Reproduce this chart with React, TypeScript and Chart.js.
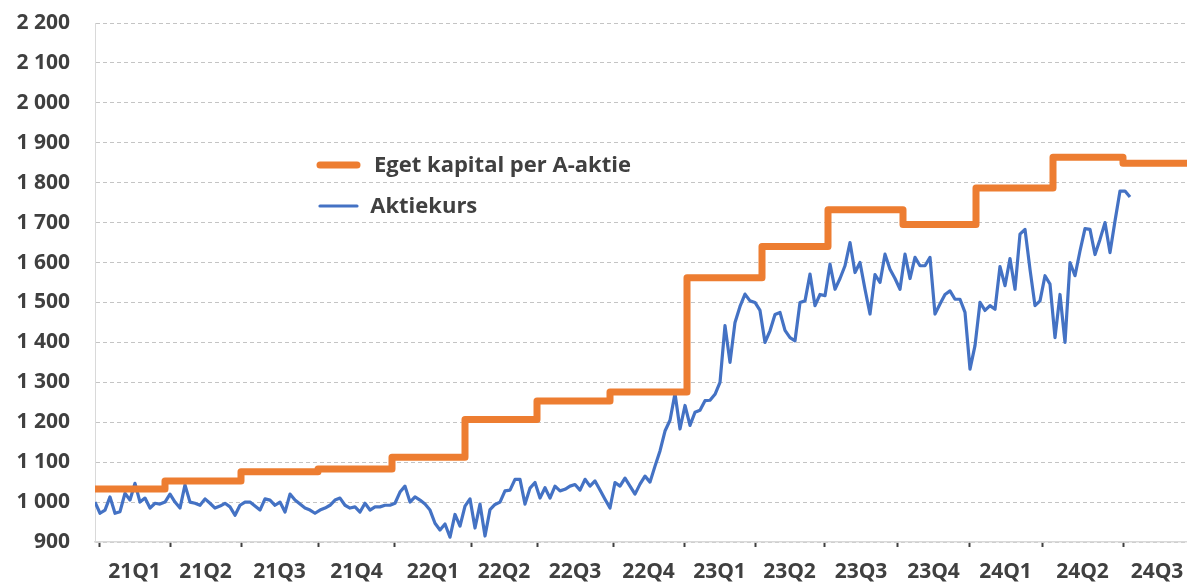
import React, { useEffect, useRef } from 'react';
import { Chart, registerables } from 'chart.js';

Chart.register(...registerables);

// Quarter labels on the x axis and the quarter boundaries (in weeks from chart start)
const quarterLabels = ['21Q1', '21Q2', '21Q3', '21Q4', '22Q1', '22Q2', '22Q3', '22Q4', '23Q1', '23Q2', '23Q3', '23Q4', '24Q1', '24Q2', '24Q3'];
const quarterBounds = [0.8, 15, 29.2, 44.6, 60, 75.2, 88.4, 103.6, 117.8, 132, 145.8, 160.6, 174.8, 189.4, 205.6, 219.2];
const xMax = 218.4;

// Eget kapital per A-aktie: step changes (week position, value)
const equityWeeks = [0, 14, 29.2, 44.6, 59.4, 74, 88.4, 103, 118.4, 133.4, 146.6, 161.6, 176.2, 191.6, 205.6];
const equityValues = [1033, 1053, 1076, 1083, 1112, 1207, 1253, 1276, 1562, 1640, 1732, 1695, 1787, 1864, 1849];

// Aktiekurs: weekly share price
const sharePrice = [
  1000, 972, 980, 1013, 972, 976, 1022, 1005, 1047, 1000,
  1010, 985, 997, 995, 1000, 1020, 1000, 985, 1043, 1000,
  997, 992, 1008, 997, 985, 990, 997, 988, 967, 992,
  1000, 1000, 990, 980, 1008, 1005, 992, 1000, 975, 1020,
  1005, 995, 985, 980, 972, 980, 985, 992, 1005, 1010,
  992, 985, 988, 975, 997, 980, 988, 988, 992, 992,
  997, 1025, 1040, 1000, 1013, 1005, 995, 980, 947, 930,
  945, 912, 969, 940, 990, 1008, 935, 995, 915, 981,
  994, 1000, 1028, 1030, 1057, 1057, 995, 1035, 1049, 1010,
  1036, 1010, 1040, 1028, 1032, 1040, 1044, 1030, 1057, 1040,
  1053, 1030, 1007, 985, 1049, 1040, 1060, 1040, 1020, 1045,
  1065, 1050, 1090, 1128, 1178, 1205, 1272, 1183, 1242, 1192,
  1225, 1230, 1254, 1255, 1270, 1300, 1442, 1350, 1450, 1490,
  1521, 1504, 1500, 1480, 1400, 1429, 1470, 1475, 1430, 1412,
  1404, 1500, 1504, 1571, 1492, 1520, 1517, 1596, 1533, 1560,
  1592, 1650, 1575, 1600, 1533, 1471, 1570, 1550, 1621, 1583,
  1560, 1533, 1621, 1560, 1613, 1592, 1592, 1613, 1471, 1496,
  1520, 1529, 1508, 1508, 1475, 1333, 1392, 1500, 1480, 1492,
  1483, 1590, 1542, 1610, 1533, 1671, 1683, 1583, 1492, 1504,
  1567, 1546, 1412, 1520, 1400, 1600, 1567, 1629, 1685, 1683,
  1620, 1658, 1700, 1625, 1704, 1779, 1779, 1764,
];

const yMin = 900;
const yMax = 2200;
const yStep = 100;

const seriesNames = ['Eget kapital per A-aktie', 'Aktiekurs'];

const FONT = '"Open Sans", "Liberation Sans", sans-serif';
const TEXT = '#404040';

const fmt = (v: number) => {
  if (v < 1000) return String(v);
  return `${Math.floor(v / 1000)} ${String(v % 1000).padStart(3, '0')}`;
};

const midPoints = quarterLabels.map((_, i) => (quarterBounds[i] + quarterBounds[i + 1]) / 2);

const legendPlugin = {
  id: 'insideLegend',
  afterDraw(chart: any) {
    const { ctx, chartArea } = chart;
    const x0 = chartArea.left + 225;
    const x1 = chartArea.left + 262;
    chart.data.datasets.forEach((ds: any, i: number) => {
      const y = chartArea.top + 142 + i * 41;
      ctx.save();
      ctx.strokeStyle = ds.borderColor;
      ctx.lineWidth = ds.borderWidth;
      ctx.lineCap = 'round';
      ctx.beginPath();
      ctx.moveTo(x0, y);
      ctx.lineTo(x1, y);
      ctx.stroke();
      ctx.fillStyle = TEXT;
      ctx.font = `bold 22px ${FONT}`;
      ctx.textBaseline = 'middle';
      ctx.textAlign = 'left';
      ctx.fillText(ds.label, x1 + 10 + ds.borderWidth, y + 1);
      ctx.restore();
    });
  },
};

export default function App() {
  const ref = useRef<HTMLCanvasElement | null>(null);

  useEffect(() => {
    document.body.style.margin = '0';
    const canvas = ref.current;
    if (!canvas) return;

    const equityData = equityWeeks.map((w, i) => ({ x: w, y: equityValues[i] }));
    equityData.push({ x: xMax, y: equityValues[equityValues.length - 1] });
    const priceData = sharePrice.map((v, i) => ({ x: i, y: v }));

    const boundSet = new Set(quarterBounds);

    const chart = new Chart(canvas, {
      type: 'line',
      data: {
        datasets: [
          {
            label: seriesNames[0],
            data: equityData,
            borderColor: '#ED7D31',
            backgroundColor: '#ED7D31',
            borderWidth: 7,
            stepped: 'before',
            pointRadius: 0,
            borderJoinStyle: 'round',
            fill: false,
          },
          {
            label: seriesNames[1],
            data: priceData,
            borderColor: '#4472C4',
            backgroundColor: '#4472C4',
            borderWidth: 3.2,
            pointRadius: 0,
            tension: 0,
            borderJoinStyle: 'round',
            fill: false,
          },
        ],
      },
      options: {
        animation: false,
        responsive: false,
        layout: { padding: { top: 23, right: 0, bottom: 0, left: 0 } },
        plugins: {
          legend: { display: false },
          tooltip: { enabled: false },
        },
        scales: {
          x: {
            type: 'linear',
            min: 0,
            max: xMax,
            afterBuildTicks: (scale: any) => {
              const vals = [...quarterBounds, ...midPoints].filter((v) => v >= 0 && v <= xMax).sort((a, b) => a - b);
              scale.ticks = vals.map((v) => ({ value: v }));
            },
            afterFit: (scale: any) => {
              scale.height = 40;
              scale.paddingLeft = 0;
              scale.paddingRight = 0;
            },
            ticks: {
              autoSkip: false,
              maxRotation: 0,
              padding: 12,
              color: TEXT,
              font: { family: FONT, size: 21, weight: 'bold' },
              callback: (value: any) => {
                const idx = midPoints.indexOf(value);
                return idx >= 0 ? quarterLabels[idx] : '';
              },
            },
            grid: {
              drawOnChartArea: false,
              drawTicks: true,
              tickLength: 5,
              tickWidth: 2,
              tickColor: (ctx: any) => (ctx.tick && boundSet.has(ctx.tick.value) ? '#404040' : 'rgba(0,0,0,0)'),
            },
            border: { display: true, color: '#d9d9d9', width: 1.5 },
          },
          y: {
            min: yMin,
            max: yMax,
            afterFit: (scale: any) => {
              scale.width = 95;
              scale.paddingTop = 0;
              scale.paddingBottom = 0;
            },
            ticks: {
              stepSize: yStep,
              padding: 25,
              color: TEXT,
              font: { family: FONT, size: 21, weight: 'bold' },
              callback: (value: any) => fmt(Number(value)),
            },
            grid: {
              drawTicks: false,
              color: '#c4c4c4',
              lineWidth: 1,
            },
            border: { display: true, color: '#d9d9d9', width: 1, dash: [4, 3] },
          },
        },
      },
      plugins: [legendPlugin],
    } as any);

    return () => chart.destroy();
  }, []);

  return (
    <div style={{ width: 1187, height: 582 }}>
      <canvas ref={ref} width={1187} height={582} />
    </div>
  );
}
